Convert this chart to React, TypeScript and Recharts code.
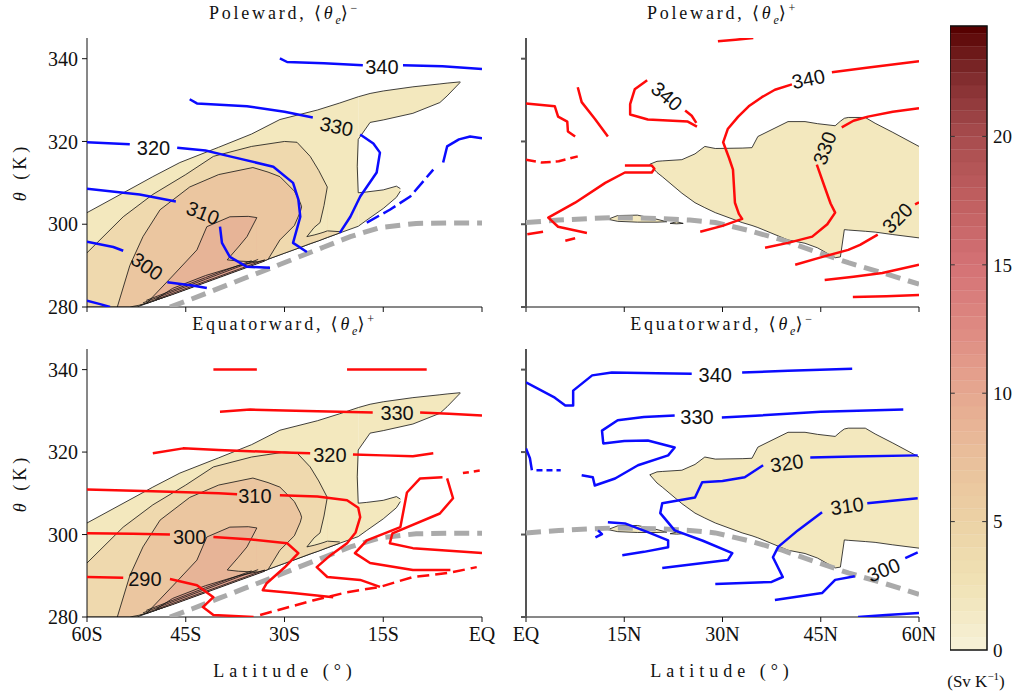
import React from 'react';
import { ComposedChart, Area, Scatter, XAxis, YAxis, ReferenceArea, ReferenceLine } from 'recharts';

type P = [number, number];
type R = [number, number, number];
type Seg = { pts: P[]; dash?: string };
type Lab = [number, number, string, number];

const SERIF = '"Liberation Serif", "DejaVu Serif", serif';
const SANS = '"Liberation Sans", Arial, sans-serif';
const BLUE = '#0b0bff';
const RED = '#ff0a0a';
const FILLS = ['#f3e8be', '#efd9ae', '#ebc6a0', '#e7b497', '#e2a08d'];

// axes
const southTicks = [-60, -45, -30, -15, 0];
const southLabels = ['60S', '45S', '30S', '15S', 'EQ'];
const northTicks = [0, 15, 30, 45, 60];
const northLabels = ['EQ', '15N', '30N', '45N', '60N'];
const thetaTicks = [280, 300, 320, 340];
const cbTicks = [0, 5, 10, 15, 20];

// filled transport contours, southern hemisphere (lat, lower theta, upper theta)
const sFill1Main: R[] = [[-60, 280, 302.8], [-52.4, 280, 309.4], [-50, 281.4, 311.5], [-45.9, 283.8, 314.9], [-40, 287.2, 318.6], [-35, 290.1, 321.8], [-30.7, 292.6, 325.3], [-25, 295.9, 327.6], [-21.6, 297.9, 329.3], [-18.8, 299.5, 330.8]];
const sFill1Arm: R[] = [[-18.8, 320.5, 330.8], [-17, 324.6, 331.6], [-15, 325.2, 332.2], [-10.5, 326.8, 333.2], [-6.4, 329.4, 333.9], [-5.3, 331, 334.1], [-3.3, 334.3, 334.4]];
const sFill1Spur: R[] = [[-18.8, 299.5, 307.6], [-17.5, 301, 307.8], [-15, 303.8, 308.3], [-13, 306.5, 309.2], [-12.4, 308, 308.6]];
const sFill2Main: R[] = [[-60, 280, 293.1], [-54.5, 280, 301.8], [-50, 281.4, 307.2], [-45, 284.3, 312], [-40.8, 286.8, 316.4], [-35, 290.1, 318.8], [-30, 293, 320], [-28.1, 294.1, 319.8], [-26.1, 295.3, 316.4], [-24.8, 296, 313], [-23.5, 296.8, 309]];
const sFill2Tail: R[] = [[-23.5, 296.8, 298.4], [-21.6, 297.9, 298.2]];
const sFill2Notch: R[] = [[-26.6, 297, 297], [-25.5, 297.4, 299.2], [-24.6, 297.8, 300.4], [-24, 298.1, 304.5], [-23.5, 298.4, 309]];
const sFill3Main: R[] = [[-55.4, 280, 280], [-53.5, 280, 290], [-51.5, 280.6, 297], [-48.9, 282.1, 303.5], [-44.4, 284.6, 309], [-40, 287.2, 312], [-34.8, 290.2, 313.7], [-32.5, 291.5, 312.6], [-30.7, 296.2, 311.5], [-28.5, 299.7, 308], [-27.6, 303, 305.2], [-27.4, 304.2, 304.2]];
const sFill4Main: R[] = [[-51, 280.8, 280.8], [-47, 283.1, 287.5], [-43.3, 285.3, 293.8], [-41.8, 286.2, 299.4], [-38.3, 288.3, 301.8], [-35.5, 289.9, 301.9], [-34.2, 290.6, 301.6]];
const sFill4Notch: R[] = [[-38.7, 291.4, 291.4], [-37, 291.1, 294.5], [-35.7, 291, 297], [-34.2, 290.9, 301.6]];
const sFill5: R[] = [[-49.5, 281.7, 281.9], [-47, 283, 284.5], [-42, 285.9, 287.6], [-37, 288.8, 290], [-33, 291.1, 291.3]];

// filled transport contours, northern hemisphere
const nFill1: R[] = [[18.9, 314.5, 314.5], [20, 312.5, 315.2], [20.8, 311.5, 315.3], [23.8, 307.5, 315.6], [25.8, 305.2, 317], [27.3, 304, 318.8], [28.9, 302.8, 318.3], [33, 300.4, 318.4], [34.5, 299.7, 318.5], [35.4, 299.2, 321.2], [40, 296.2, 324.8], [42.6, 295.4, 324.8], [44.5, 294.3, 324.3], [47.2, 291.9, 323.8], [48, 292.1, 324.9], [48.6, 298.7, 325.6], [49.2, 298.6, 325.8], [51.8, 298.3, 325.8], [53.3, 298.1, 324.4], [56, 297.5, 322.2], [60, 296.7, 318.8]];
const nFill1b: R[] = [[12.5, 301.2, 301.2], [14, 300.7, 302.1], [17, 300.5, 302.2], [20, 300.5, 301.2], [21.5, 300.6, 300.6]];
const nFill1c: R[] = [[22, 300.2, 300.2], [23, 300.1, 300.6], [24, 300.2, 300.2]];

// black contour pieces not covered by the fills
const sOutline: Seg[] = [
  { pts: [[-18.8, 307.6], [-18.95, 314], [-18.8, 320.5]] },
  { pts: [[-52, 280.4], [-42, 286.2], [-33, 291.4]] },
  { pts: [[-51.5, 281], [-42, 286.7], [-34, 291.5]] },
  { pts: [[-51, 281.6], [-42, 287.1], [-35, 291.2]] },
];

// dashed grey line
const sDash: P[] = [[-47.4, 280], [-44, 282], [-40, 284.5], [-36, 287], [-32.7, 289], [-28, 292], [-24, 294.5], [-20, 297], [-15.5, 299.2], [-10, 300.2], [-5, 300.3], [0, 300.3]];
const nDash: P[] = [[0, 300.4], [5, 301], [10, 301.4], [13.6, 301.6], [20, 301.4], [25, 301], [28.9, 300.4], [34, 298.5], [39.1, 296.2], [44, 293.5], [49.2, 290.7], [55, 288], [60, 285.5]];

// Poleward <theta_e>- (blue)
const tlLines: Seg[] = [
  { pts: [[-30.7, 340.1], [-29.6, 339.2], [-24, 338.9], [-18.1, 338.4]] },
  { pts: [[-12, 338.4], [-6, 338.2], [0, 337.5]] },
  { pts: [[-44.4, 330.2], [-43.3, 329.2], [-35.7, 328.5], [-30, 327.2], [-25.7, 325.8]] },
  { pts: [[-18.5, 321.7], [-16.5, 319.5], [-15.5, 317.3], [-16, 312.5], [-18.5, 306.7], [-20, 301.8], [-21.6, 297.9]] },
  { pts: [[-5.9, 314.9], [-5.3, 318.8], [-3.5, 320.5], [-1.8, 321.2], [0, 320.8]] },
  { pts: [[-17.5, 300.4], [-14, 303.5], [-10.9, 306.7], [-7.4, 313.2]], dash: '14 5' },
  { pts: [[-60, 319.8], [-53.5, 319.3]] },
  { pts: [[-46.3, 318.5], [-42, 317.8], [-38.3, 316.4], [-31.7, 313.9], [-28.7, 310], [-27.9, 306], [-27.6, 301.8], [-28.7, 295.5], [-26.6, 293.3]] },
  { pts: [[-60, 308.6], [-52, 307.2], [-46.5, 305.5]] },
  { pts: [[-39.8, 299.4], [-39.5, 295.5], [-38.3, 292.1], [-35.7, 289.7], [-32.2, 289.5]] },
  { pts: [[-60, 295.8], [-56, 294.5], [-54.5, 293.6]] },
  { pts: [[-47.8, 286], [-44, 285.2], [-41.8, 284.6]] },
  { pts: [[-60, 281.5], [-58, 280.7], [-56.5, 280]] },
];
const tlLabels: Lab[] = [[-15.2, 338.1, '340', 0], [-22.1, 323.6, '330', 12], [-49.9, 318.4, '320', 0], [-42.4, 302.7, '310', 22], [-50.9, 289.8, '300', 35]];

// Poleward <theta_e>+ (red)
const trLines: Seg[] = [
  { pts: [[46.7, 336.7], [52, 337.8], [60, 339.4]] },
  { pts: [[40.6, 333.8], [38, 332.5], [36, 330.7], [34, 328.5], [32.4, 326], [30.8, 323], [30.1, 319.8], [31, 316], [31.6, 313.2], [31.9, 305.2], [32.5, 302.5], [33, 301.3], [30, 299.6], [26.6, 298.2]] },
  { pts: [[48.2, 323.4], [50, 325], [52.2, 326], [56, 327.2], [60, 328]] },
  { pts: [[44.4, 314.4], [45.6, 309], [46.5, 305], [47.2, 302.8], [46, 300], [43.7, 297], [40, 295.5], [36.5, 294.3]] },
  { pts: [[59.4, 304.8], [60, 305.3]] },
  { pts: [[53.7, 297.5], [51, 295], [49.2, 293.8], [45, 292], [41.1, 290.2]] },
  { pts: [[45.6, 286.5], [50, 287.3], [54.4, 288.2], [60, 290.2]] },
  { pts: [[49.9, 282.4], [55, 282.6], [60, 282.9]] },
  { pts: [[0, 329.2], [4.4, 328.5], [4.9, 326], [6.3, 324.8], [6.4, 322.4], [7.5, 321.2]] },
  { pts: [[7.9, 333.1], [8.5, 329.5], [10.5, 325.5], [12.5, 321.2]] },
  { pts: [[18.5, 334.8], [16.6, 332.6], [15.9, 329], [15.9, 326.5], [18.6, 325.3], [24.7, 324.8], [26.1, 323.6]] },
  { pts: [[24.3, 327.5], [25.3, 326.2], [26, 324.5]] },
  { pts: [[29.3, 344.2], [32, 344.6], [34.7, 345]] },
  { pts: [[0, 315.6], [2.4, 314.9], [5, 315.2], [7.9, 316.4]], dash: '10 5' },
  { pts: [[15.1, 314.2], [19.2, 314.2], [19.6, 313.4], [19.2, 312.5], [15.1, 312.5], [12.1, 310], [7.5, 305.2], [3.4, 301.6], [4.9, 299.4], [9.3, 297.9]] },
  { pts: [[6, 296], [7.5, 296.6]] },
  { pts: [[0.2, 297.6], [2.6, 298.2]] },
];
const trLabels: Lab[] = [[43.1, 335.1, '340', -12], [21.5, 330.9, '340', 40], [45.6, 318.4, '330', -70], [56.7, 301.5, '320', -45]];

// Equatorward <theta_e>+ (red)
const blLines: Seg[] = [
  { pts: [[-40.8, 340], [-34.2, 340]] },
  { pts: [[-20.5, 340], [-8.4, 340]] },
  { pts: [[-39.8, 329.8], [-35.2, 330.3], [-30, 330.1], [-25, 329.9], [-16.6, 329.6]] },
  { pts: [[-9.4, 329.6], [-5, 329.3], [0, 328.9]] },
  { pts: [[-50, 319.7], [-45.4, 320.9], [-40, 320.5], [-30, 319.9], [-26.1, 319.7]] },
  { pts: [[-19.6, 319.4], [-15, 319.2], [-10.5, 319], [-7.4, 319.7]] },
  { pts: [[-60, 310.9], [-50, 310.5], [-40, 310], [-37.2, 309.8]] },
  { pts: [[-30.7, 309.5], [-25, 309.2], [-20.5, 308.3], [-18.8, 306.5], [-18.5, 304.2], [-19.2, 300.5], [-20.5, 297.9], [-23, 295], [-25.1, 292.1], [-23.5, 289.7], [-18.5, 289], [-15.5, 287.3]] },
  { pts: [[-60, 300.3], [-53, 300.2], [-47.4, 300]] },
  { pts: [[-40.8, 299.4], [-35, 298.8], [-29.6, 297.9], [-27.9, 295.5], [-30, 292], [-32.7, 288.2], [-33.3, 286.5], [-28.7, 285.8], [-22.6, 284.8]] },
  { pts: [[-60, 289.7], [-54.5, 289.5]] },
  { pts: [[-47.4, 289.2], [-43.3, 287.7], [-40.8, 284.8], [-42.4, 282.4], [-40.8, 280.5], [-34.7, 280]] },
  { pts: [[-33.7, 280.5], [-25.7, 284], [-20.5, 286], [-15.5, 287.3], [-10.5, 289.7], [-5, 290.7], [-0.8, 292.1]], dash: '12 6' },
  { pts: [[-6, 313.9], [-9.4, 313.6], [-11.4, 310.2], [-12.4, 301.8], [-17.5, 298.6], [-19.3, 295.5], [-17, 293.1], [-10.5, 291.4], [-4.8, 291.4]] },
  { pts: [[-5.3, 313.6], [-4.4, 308.8], [-6.4, 305.1], [-13.6, 300.3], [-14, 297.9], [-10.5, 296.7], [0, 295.5]] },
  { pts: [[-2.9, 314.9], [0, 315.6]], dash: '6 5' },
];
const blLabels: Lab[] = [[-12.9, 329.4, '330', 0], [-23.1, 319.2, '320', 0], [-34.5, 309.3, '310', 0], [-44.4, 299.3, '300', 0], [-51.2, 289.1, '290', 0]];

// Equatorward <theta_e>- (blue)
const brLines: Seg[] = [
  { pts: [[0, 336.9], [4.4, 333.2], [6, 331.3], [7.2, 331.3], [7.2, 334.9], [10.1, 338.6], [13.1, 339.3], [20, 339.1], [25.3, 339]] },
  { pts: [[33, 339.3], [40, 339.7], [49.8, 340.2]] },
  { pts: [[57.6, 330.3], [45, 329.8], [35, 328.8], [29.9, 328.4]] },
  { pts: [[22.7, 328.9], [18, 328.5], [14, 327.7], [11.6, 325.2], [11.8, 322.1], [15, 322.7], [18.6, 322.8], [22.7, 321.1], [21.7, 319.2], [17.1, 316.8], [13.6, 313.6], [10.5, 311.9], [10.2, 313.9], [8.5, 314.4]] },
  { pts: [[0, 320.9], [0.6, 318.5], [0.9, 315.6]] },
  { pts: [[1.6, 315.6], [5.3, 315.6]], dash: '6 4' },
  { pts: [[59.8, 319.2], [50, 318.9], [43.4, 318.7]] },
  { pts: [[36.2, 316.8], [33.4, 313.9], [30, 313], [26.9, 312.7], [25.8, 309], [20.8, 307.6], [20.5, 305.2], [22.7, 301], [27, 298.5], [31.5, 295.5], [30.8, 293.8], [20.8, 291.9]] },
  { pts: [[59.8, 308.8], [52.1, 307.6]] },
  { pts: [[45.2, 305.4], [41.5, 301], [38.5, 297], [37.7, 294.5], [39.2, 289.7], [37.5, 288.5], [28.9, 288]] },
  { pts: [[59.8, 295.7], [57.9, 294.3]] },
  { pts: [[50.2, 289.9], [47.2, 289], [45.2, 285.8], [38, 284.1]] },
  { pts: [[50.7, 280], [55, 280.5], [60, 281]] },
  { pts: [[14.7, 295], [18, 295.8], [21.7, 296.9], [21.7, 298.6], [18.6, 300.6], [15.1, 302.7], [12.5, 303]] },
  { pts: [[10.6, 299.3], [11.6, 300.1], [11, 301]] },
];
const brLabels: Lab[] = [[28.9, 338.8, '340', 0], [26.1, 328.5, '330', 0], [39.8, 317.3, '320', -8], [49, 306.9, '310', -8], [54.6, 291.4, '300', -22]];

// colour bar
const cbStops: [number, string][] = [[0, '#f7f1d8'], [2.5, '#f0e3b6'], [5, '#ecd2a5'], [7.5, '#e9bf9b'], [10, '#e6a890'], [12.5, '#de8a82'], [15, '#d47275'], [17.5, '#c05f60'], [20, '#a84c4e'], [22.5, '#7e2a2b'], [24.3, '#560000']];
const cbMax = 24.3;

const southFills: { d: R[]; c: string }[] = [
  { d: sFill1Main, c: FILLS[0] },
  { d: sFill1Arm, c: FILLS[0] },
  { d: sFill1Spur, c: FILLS[0] },
  { d: sFill2Main, c: FILLS[1] },
  { d: sFill2Tail, c: FILLS[1] },
  { d: sFill2Notch, c: FILLS[0] },
  { d: sFill3Main, c: FILLS[2] },
  { d: sFill4Main, c: FILLS[3] },
  { d: sFill4Notch, c: FILLS[2] },
  { d: sFill5, c: FILLS[4] },
];
const northFills = [
  { d: nFill1, c: FILLS[0] },
  { d: nFill1b, c: FILLS[0] },
  { d: nFill1c, c: FILLS[0] },
];

const toPts = (p: P[]) => p.map(([x, y]) => ({ x, y }));
const toRange = (r: R[]) => r.map(([x, lo, hi]) => ({ x, r: [lo, hi] }));

function LabelShape(p: any) {
  const { cx, cy, payload } = p;
  return (
    <text x={cx} y={cy} textAnchor="middle" dominantBaseline="central" fontSize={20} fontFamily={SANS} fill="#111"
      transform={`rotate(${payload.a} ${cx} ${cy})`}>{payload.t}</text>
  );
}

const noDot = () => <g />;

interface PanelProps {
  left: number; top: number; w: number; h: number;
  south: boolean; bottomRow: boolean;
  fills: { d: R[]; c: string }[];
  outlines: Seg[]; dash: P[];
  lines: Seg[]; color: string; labels: Lab[];
}

const tickStyle = { fill: '#111', fontSize: 20, fontFamily: SERIF };

function Panel({ left, top, w, h, south, bottomRow, fills, outlines, dash, lines, color, labels }: PanelProps) {
  const yW = 55;
  const ticks = south ? southTicks : northTicks;
  const names = south ? southLabels : northLabels;
  const axisCol = south ? '#111' : '#555';
  return (
    <div style={{ position: 'absolute', left: left - yW, top: top - 5 }}>
      <ComposedChart width={yW + w + 22} height={h + 5 + 36} margin={{ top: 5, right: 22, bottom: 0, left: 0 }}
        style={{ fontFamily: SERIF }}>
        <XAxis dataKey="x" type="number" domain={south ? [-60, 0] : [0, 60]} ticks={ticks} allowDataOverflow interval={0}
          height={36} tickSize={5} tickMargin={5} stroke="#111" fontSize={20} fontFamily={SERIF}
          tickFormatter={(v: number) => (bottomRow ? names[ticks.indexOf(v)] ?? '' : '')}
          tick={tickStyle} />
        <YAxis dataKey="y" type="number" domain={[280, 345]} ticks={thetaTicks} allowDataOverflow width={yW} interval={0}
          tickSize={5} tickMargin={4} stroke={axisCol} strokeWidth={south ? 1 : 2} fontSize={20} fontFamily={SERIF}
          tickFormatter={(v: number) => (south ? String(v) : '')}
          tick={tickStyle} />
        {fills.map((f, i) => (
          <Area key={`f${i}`} data={toRange(f.d)} dataKey="r" type="linear" stroke="#111" strokeWidth={0.8}
            fill={f.c} fillOpacity={1} dot={false} activeDot={false} isAnimationActive={false} />
        ))}
        {outlines.map((s, i) => (
          <Scatter key={`o${i}`} data={toPts(s.pts)} shape={noDot} line={{ stroke: '#111', strokeWidth: 0.8 }}
            isAnimationActive={false} />
        ))}
        <Scatter data={toPts(dash)} shape={noDot} line={{ stroke: '#aaaaaa', strokeWidth: 5, strokeDasharray: '15 8' }}
          isAnimationActive={false} />
        {lines.map((s, i) => (
          <Scatter key={`l${i}`} data={toPts(s.pts)} shape={noDot}
            line={{ stroke: color, strokeWidth: 2.5, strokeDasharray: s.dash, strokeLinejoin: 'round' }}
            isAnimationActive={false} />
        ))}
        <Scatter data={labels.map(([x, y, t, a]) => ({ x, y, t, a }))} shape={LabelShape} isAnimationActive={false} />
      </ComposedChart>
    </div>
  );
}

function lerpColor(v: number) {
  for (let i = 0; i < cbStops.length - 1; i++) {
    const [v0, c0] = cbStops[i];
    const [v1, c1] = cbStops[i + 1];
    if (v <= v1) {
      const t = (v - v0) / (v1 - v0);
      const a = [1, 3, 5].map((k) => parseInt(c0.slice(k, k + 2), 16));
      const b = [1, 3, 5].map((k) => parseInt(c1.slice(k, k + 2), 16));
      return `rgb(${a.map((x, j) => Math.round(x + (b[j] - x) * t)).join(',')})`;
    }
  }
  return cbStops[cbStops.length - 1][1];
}

function ColorBar() {
  const bands: { y1: number; y2: number; c: string }[] = [];
  for (let v = 0; v < cbMax; v += 0.5) bands.push({ y1: v, y2: Math.min(v + 0.5, cbMax), c: lerpColor(v + 0.25) });
  return (
    <div style={{ position: 'absolute', left: 950, top: 16 }}>
      <ComposedChart width={37 + 40} height={624 + 20} margin={{ top: 10, right: 0, bottom: 10, left: 0 }}
        style={{ fontFamily: SERIF }}>
        <XAxis dataKey="x" type="number" domain={[0, 1]} hide allowDataOverflow />
        <YAxis type="number" orientation="right" domain={[0, cbMax]} ticks={cbTicks} allowDataOverflow width={40} interval={0}
          axisLine={false} tickLine={false} tickSize={0} tickMargin={6} fontSize={19} fontFamily={SERIF}
          tick={{ fill: '#111', fontSize: 19, fontFamily: SERIF, textAnchor: 'start' }} />
        {bands.map((b, i) => (
          <ReferenceArea key={i} x1={0} x2={1} y1={b.y1} y2={b.y2} fill={b.c} fillOpacity={1} stroke={b.c} strokeWidth={0.3} />
        ))}
        <ReferenceArea x1={0} x2={1} y1={0} y2={cbMax} fill="none" stroke="#111" strokeWidth={1.5} />
        {cbTicks.filter((t) => t > 0).map((t) => (
          <ReferenceLine key={`a${t}`} segment={[{ x: 0, y: t }, { x: 0.13, y: t }]} stroke="#333" />
        ))}
        {cbTicks.filter((t) => t > 0).map((t) => (
          <ReferenceLine key={`b${t}`} segment={[{ x: 0.87, y: t }, { x: 1, y: t }]} stroke="#333" />
        ))}
      </ComposedChart>
    </div>
  );
}

const titleStyle: React.CSSProperties = {
  position: 'absolute', textAlign: 'center', fontFamily: SERIF, fontSize: 18, letterSpacing: 2.8, color: '#111', whiteSpace: 'nowrap',
};

function Title({ left, width, top, word, sign }: { left: number; width: number; top: number; word: string; sign: string }) {
  return (
    <div style={{ ...titleStyle, left, width, top }}>
      {word}, ⟨<i>θ</i><sub style={{ fontSize: 12, letterSpacing: 0 }}><i>e</i></sub>⟩<sup style={{ fontSize: 12 }}>{sign}</sup>
    </div>
  );
}

function YLabel({ top }: { top: number }) {
  return (
    <div style={{ position: 'absolute', left: 20, top, transform: 'translate(-50%, -50%) rotate(-90deg)', fontFamily: SERIF, fontSize: 18, letterSpacing: 4, whiteSpace: 'nowrap', color: '#111' }}>
      <i>θ</i> (K)
    </div>
  );
}

function XLabel({ cx }: { cx: number }) {
  return (
    <div style={{ position: 'absolute', left: cx, top: 671, transform: 'translate(-50%, -50%)', fontFamily: SERIF, fontSize: 18, letterSpacing: 5, whiteSpace: 'nowrap', color: '#111' }}>
      Latitude (°)
    </div>
  );
}

export default function App() {
  return (
    <div style={{ position: 'absolute', left: 0, top: 0, width: 1014, height: 692, background: '#fff', overflow: 'hidden' }}>
      <Title left={87} width={395} top={1} word="Poleward" sign="−" />
      <Title left={526} width={393} top={1} word="Poleward" sign="+" />
      <Title left={87} width={395} top={312} word="Equatorward" sign="+" />
      <Title left={526} width={393} top={312} word="Equatorward" sign="−" />
      <YLabel top={172} />
      <YLabel top={483} />
      <Panel left={87} top={38} w={395} h={269} south bottomRow={false} fills={southFills} outlines={sOutline} dash={sDash} lines={tlLines} color={BLUE} labels={tlLabels} />
      <Panel left={526} top={38} w={393} h={269} south={false} bottomRow={false} fills={northFills} outlines={[]} dash={nDash} lines={trLines} color={RED} labels={trLabels} />
      <Panel left={87} top={349} w={395} h={268} south bottomRow fills={southFills} outlines={sOutline} dash={sDash} lines={blLines} color={RED} labels={blLabels} />
      <Panel left={526} top={349} w={393} h={268} south={false} bottomRow fills={northFills} outlines={[]} dash={nDash} lines={brLines} color={BLUE} labels={brLabels} />
      <XLabel cx={285} />
      <XLabel cx={722} />
      <ColorBar />
      <div style={{ position: 'absolute', left: 976, top: 681, transform: 'translate(-50%, -50%)', fontFamily: SERIF, fontSize: 17, whiteSpace: 'nowrap', color: '#111' }}>
        (Sv K<sup style={{ fontSize: 11 }}>−1</sup>)
      </div>
    </div>
  );
}
